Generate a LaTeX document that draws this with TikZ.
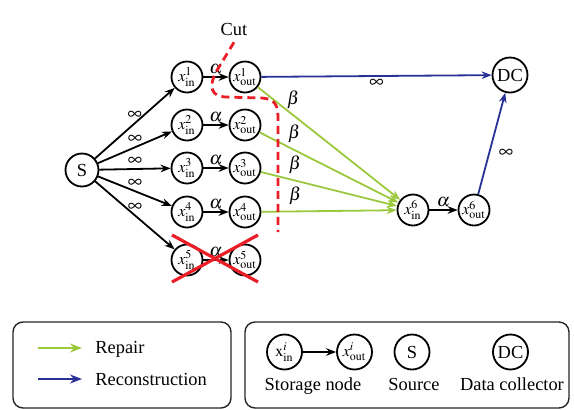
\documentclass[tikz,border=0pt]{standalone}
\usepackage{amsmath}
\usepackage{mathptmx}
\usepackage{fontspec}
\setmainfont{Liberation Serif}
\usepackage{tikz}
\usetikzlibrary{arrows.meta,positioning}
\usepackage{xcolor}
\definecolor{repgreen}{RGB}{155,200,60}
\definecolor{recblue}{RGB}{40,50,150}
\definecolor{cutred}{RGB}{235,30,40}

\begin{document}
\begin{tikzpicture}[
    x=0.5pt, y=-0.5pt, >=Stealth, font=\fontsize{9.2}{11}\selectfont,
    nd/.style={draw, circle, line width=0.9pt, minimum size=15.5pt, inner sep=0pt, font=\fontsize{8}{9}\selectfont},
    big/.style={nd, minimum size=16.5pt, font=\fontsize{9.2}{11}\selectfont},
    lg/.style={nd, minimum size=17.5pt},
    arr/.style={-{Stealth[length=5pt,width=3.8pt]}, line width=0.9pt},
    rep/.style={arr, draw=repgreen},
    rec/.style={arr, draw=recblue},
    key/.style={-{Stealth[length=6pt,width=4.5pt]}, line width=1.4pt},
    lab/.style={inner sep=1pt},
    inf/.style={inner sep=1.5pt, font=\fontsize{10}{11}\selectfont},
    cutline/.style={draw=cutred, line width=1.4pt, dash pattern=on 4pt off 2.5pt},
    cross/.style={draw=cutred, line width=1.6pt},
    box/.style={draw=black!85, rounded corners=5pt, line width=0.7pt}
]
\useasboundingbox (0,0) rectangle (574,409);
% Source and data collector
\node[big] (S) at (82,170) {S};
\node[big, minimum size=17.5pt] (DC) at (510,75) {DC};
% Storage nodes
\node[nd] (i1) at (187,77) {$x^1_{\mathrm{in}}$};
\node[nd] (o1) at (245,77) {$x^1_{\mathrm{out}}$};
\node[nd] (i2) at (187,125) {$x^2_{\mathrm{in}}$};
\node[nd] (o2) at (245,125) {$x^2_{\mathrm{out}}$};
\node[nd] (i3) at (187,168) {$x^3_{\mathrm{in}}$};
\node[nd] (o3) at (245,168) {$x^3_{\mathrm{out}}$};
\node[nd] (i4) at (187,212) {$x^4_{\mathrm{in}}$};
\node[nd] (o4) at (245,212) {$x^4_{\mathrm{out}}$};
\node[nd] (i5) at (187,260) {$x^5_{\mathrm{in}}$};
\node[nd] (o5) at (245,260) {$x^5_{\mathrm{out}}$};
% Newcomer
\node[nd] (i6) at (413,210) {$x^6_{\mathrm{in}}$};
\node[nd] (o6) at (474,210) {$x^6_{\mathrm{out}}$};
% Source to storage nodes
\draw[arr] (S) -- node[inf, above] {$\infty$} (i1);
\draw[arr] (S) -- node[inf, above] {$\infty$} (i2);
\draw[arr] (S) -- node[inf, above] {$\infty$} (i3);
\draw[arr] (S) -- node[inf, above] {$\infty$} (i4);
\draw[arr] (S) -- node[inf, above] {$\infty$} (i5);
% In to out
\draw[arr] (i1) -- node[lab, above] {$\alpha$} (o1);
\draw[arr] (i2) -- node[lab, above] {$\alpha$} (o2);
\draw[arr] (i3) -- node[lab, above] {$\alpha$} (o3);
\draw[arr] (i4) -- node[lab, above] {$\alpha$} (o4);
\draw[arr] (i5) -- node[lab, above] {$\alpha$} (o5);
\draw[arr] (i6) -- node[lab, above] {$\alpha$} (o6);
% Repair
\draw[rep] (o1) -- node[lab, pos=0.25, above=2pt] {$\beta$} (i6);
\draw[rep] (o2) -- node[lab, pos=0.25, above=2pt] {$\beta$} (i6);
\draw[rep] (o3) -- node[lab, pos=0.25, above=2pt] {$\beta$} (i6);
\draw[rep] (o4) -- node[lab, pos=0.25, above=2pt] {$\beta$} (i6);
% Reconstruction
\draw[rec] (o1) -- node[inf, below] {$\infty$} (DC);
\draw[rec] (o6) -- node[inf, pos=0.4, right=3pt] {$\infty$} (DC);
% Cut
\node[anchor=base] (cut) at (234,35) {Cut};
\draw[cutline] (cut.south) -- (216,72) .. controls (208,88) and (212,96) .. (225,97) -- (262,98) .. controls (275,99) and (278,105) .. (278,118) -- (278,232);
% Failed node
\draw[cross] (172,235) -- (258,282);
\draw[cross] (258,235) -- (172,282);
% Legend: edges
\draw[box] (13,322) rectangle (231,408);
\coordinate (g0) at (38,348);
\coordinate (g1) at (82,348);
\coordinate (b0) at (38,379);
\coordinate (b1) at (82,379);
\draw[key, draw=repgreen] (g0) -- (g1);
\draw[key, draw=recblue] (b0) -- (b1);
\node[anchor=base west, inner sep=0pt] (trep) at (95,353) {Repair};
\node[anchor=base west, inner sep=0pt] (trec) at (95,385) {Reconstruction};
% Legend: nodes
\draw[box] (245,322) rectangle (569,408);
\node[lg] (li) at (284.5,352) {$\mathrm{x}^i_{\mathrm{in}}$};
\node[lg] (lo) at (354.5,352) {$x^i_{\mathrm{out}}$};
\draw[arr] (li) -- (lo);
\node[lg, font=\fontsize{9.2}{11}\selectfont] (ls) at (412,352) {S};
\node[lg, font=\fontsize{9.2}{11}\selectfont] (ld) at (510.5,352) {DC};
\node[anchor=base, inner sep=0pt] (tsn) at (313,390) {Storage node};
\node[anchor=base, inner sep=0pt] (tsrc) at (414,390) {Source};
\node[anchor=base, inner sep=0pt] (tdc) at (512,390) {Data collector};
\end{tikzpicture}
\end{document}
